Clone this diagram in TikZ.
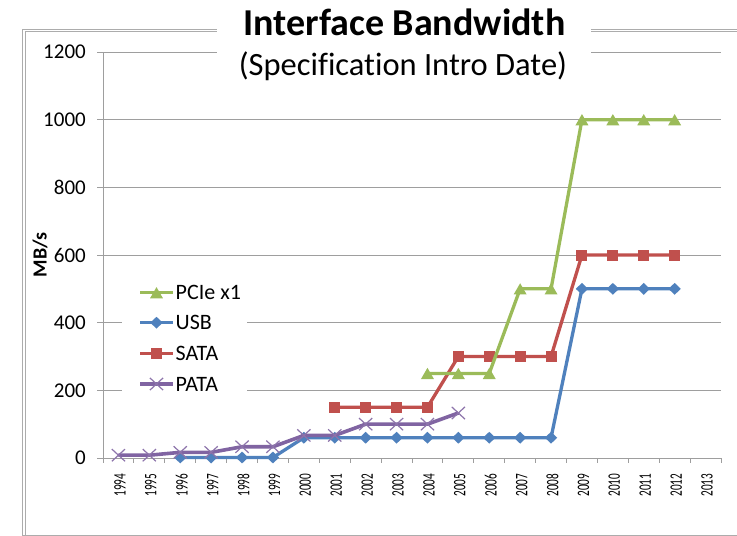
\documentclass[tikz,border=0pt]{standalone}
\usepackage{fontspec}
\usepackage{graphicx}
\setmainfont{Carlito}[Ligatures=NoCommon]
\usetikzlibrary{shapes.geometric,shapes.misc}
\definecolor{pcie}{HTML}{9BBB59}
\definecolor{usb}{HTML}{4F81BD}
\definecolor{sata}{HTML}{C0504D}
\definecolor{pata}{HTML}{8064A2}
\definecolor{gridc}{RGB}{158,158,158}
\definecolor{framec}{RGB}{172,172,172}
\begin{document}
\begin{tikzpicture}[x=1pt,y=-1pt,
  declare function={px(\i)=118.45+30.9*\i; py(\v)=458-0.33833*\v;},
  gridline/.style={draw=gridc, line width=1pt},
  frameline/.style={draw=framec, line width=1pt},
  series/.style={line width=3.3pt, line join=round},
  tri/.style={regular polygon, regular polygon sides=3, fill=pcie, minimum size=15pt, inner sep=0pt, yshift=-1.9pt},
  dia/.style={diamond, fill=usb, minimum width=12.5pt, minimum height=12pt, inner sep=0pt},
  sq/.style={rectangle, fill=sata, minimum size=11pt, inner sep=0pt},
  crs/.style={cross out, draw=pata!90!white, line width=1.2pt, minimum width=12pt, minimum height=11pt, inner sep=0pt},
  ylab/.style={font=\fontsize{21}{24}\selectfont, inner sep=0pt},
  xlab/.style={font=\fontsize{17.5}{20}\selectfont, inner sep=0pt},
  legtext/.style={font=\fontsize{22}{24}\selectfont, inner sep=0pt},
]
\useasboundingbox (0,0) rectangle (737,536);
\fill[white] (0,0) rectangle (737,536);

% chart frame
\draw[frameline] (22.5,536) -- (22.5,29) -- (737,29);
\draw[frameline] (25.3,535) -- (25.3,31.6) -- (737,31.6);
\draw[frameline] (22.5,535) -- (737,535);

% gridlines, value ticks and value labels
\foreach \v in {0,200,...,1200} {
  \draw[gridline] (97,{py(\v)}) -- (721,{py(\v)});
  \node[ylab, anchor=east] (yl\v) at (86,{py(\v)}) {\v};
}
% value axis
\draw[gridline] (103,{py(1200)}) -- (103,{py(0)});
% category ticks
\foreach \j in {0,...,20}
  \draw[gridline] ({103+30.9*\j},458) -- ++(0,5);
% category labels
\foreach \y [count=\i from 0] in {1994,...,2013}
  \node[xlab, rotate=90, anchor=east] (xl\y) at ({px(\i)+1.5},473.5) {\scalebox{0.64}[1]{\y}};

% axis title
\node[rotate=90, font=\bfseries\fontsize{20}{22}\selectfont, inner sep=0pt] (ytitle) at (40,255) {MB/s};

% title panel
\node[fill=white, minimum width=374pt, minimum height=80pt, inner sep=0pt] (titlebox) at (404,40) {};
\node[anchor=base, font=\bfseries\fontsize{38}{42}\selectfont, inner sep=0pt] (title) at (404.5,35.5) {Interface Bandwidth};
\node[anchor=base, font=\fontsize{32.5}{36}\selectfont, inner sep=0pt] (subtitle) at (403,75) {(Specification Intro Date)};

% legend panel
\node[fill=white, minimum width=125pt, minimum height=122pt, inner sep=0pt] (legendbox) at (184.5,338) {};

% data points
\foreach \i/\v [count=\k] in {10/250,11/250,12/250,13/500,14/500,15/1000,16/1000,17/1000,18/1000}
  \coordinate (pc\k) at ({px(\i)},{py(\v)});
\foreach \i/\v [count=\k] in {2/1.5,3/1.5,4/1.5,5/1.5,6/60,7/60,8/60,9/60,10/60,11/60,12/60,13/60,14/60,15/500,16/500,17/500,18/500}
  \coordinate (us\k) at ({px(\i)},{py(\v)});
\foreach \i/\v [count=\k] in {7/150,8/150,9/150,10/150,11/300,12/300,13/300,14/300,15/600,16/600,17/600,18/600}
  \coordinate (sa\k) at ({px(\i)},{py(\v)});
\foreach \i/\v [count=\k] in {0/8.3,1/8.3,2/16.7,3/16.7,4/33.3,5/33.3,6/66.7,7/66.7,8/100,9/100,10/100,11/133}
  \coordinate (pa\k) at ({px(\i)},{py(\v)});

% USB
\draw[series, usb] (us1) \foreach \k in {2,...,17} { -- (us\k) };
\foreach \k in {1,...,17} \node[dia] (usm\k) at (us\k) {};
% PATA
\draw[series, pata, line width=3.6pt] (pa1) \foreach \k in {2,...,12} { -- (pa\k) };
\foreach \k in {1,...,12} \node[crs] (pam\k) at (pa\k) {};
% SATA
\draw[series, sata] (sa1) \foreach \k in {2,...,12} { -- (sa\k) };
\foreach \k in {1,...,12} \node[sq] (sam\k) at (sa\k) {};
% PCIe x1
\draw[series, pcie] (pc1) \foreach \k in {2,...,9} { -- (pc\k) };
\foreach \k in {1,...,9} \node[tri] (pcm\k) at (pc\k) {};

% legend entries
\foreach \n/\yy in {a/292.7,b/322.7,c/353.3,d/384} {
  \coordinate (lg\n0) at (140,\yy);
  \coordinate (lg\n1) at (173,\yy);
  \coordinate (lg\n) at (156.5,\yy);
}
\draw[series, pcie] (lga0) -- (lga1);
\node[tri] (lgam) at (lga) {};
\node[legtext, anchor=west] (lgat) at (175.5,292.7) {PCIe x1};
\draw[series, usb] (lgb0) -- (lgb1);
\node[dia] (lgbm) at (lgb) {};
\node[legtext, anchor=west] (lgbt) at (175.5,322.7) {USB};
\draw[series, sata] (lgc0) -- (lgc1);
\node[sq] (lgcm) at (lgc) {};
\node[legtext, anchor=west] (lgct) at (175.5,353.3) {SATA};
\draw[series, pata] (lgd0) -- (lgd1);
\node[crs] (lgdm) at (lgd) {};
\node[legtext, anchor=west] (lgdt) at (175.5,384) {PATA};
\end{tikzpicture}
\end{document}
